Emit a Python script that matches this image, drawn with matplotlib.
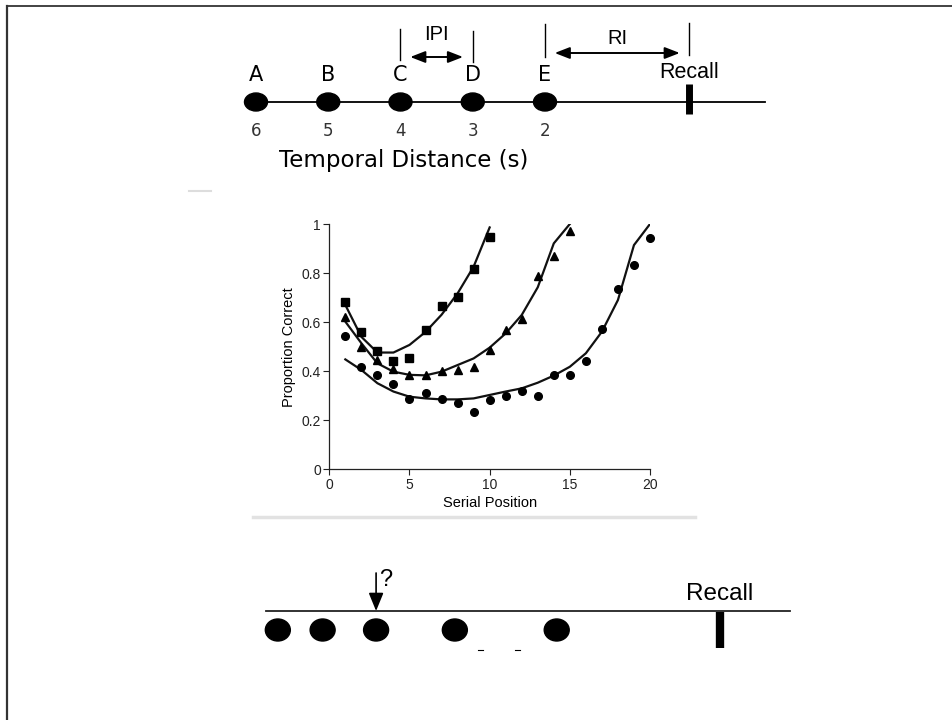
import matplotlib
matplotlib.use("Agg")
import matplotlib.pyplot as plt
from matplotlib.patches import Ellipse

plt.rcParams["font.family"] = ["Liberation Sans", "DejaVu Sans"]

# top timeline: items and their temporal distance to recall (s)
item_labels = ["A", "B", "C", "D", "E"]
item_distances = [6, 5, 4, 3, 2]
recall_distance = 0

# bottom timeline: item distances to recall (s), probe at the third item
bottom_distances = [6.12, 5.5, 4.76, 3.67, 2.26]
probe_index = 2

# serial position curves (list lengths 10, 15, 20)
serial_pos = list(range(1, 21))
sq_obs = [0.681, 0.561, 0.481, 0.443, 0.452, 0.568, 0.667, 0.701, 0.818, 0.946]
sq_fit = [0.67, 0.54, 0.476, 0.476, 0.507, 0.56, 0.63, 0.717, 0.826, 0.986]
tri_obs = [0.622, 0.50, 0.446, 0.408, 0.385, 0.385, 0.40, 0.404, 0.416, 0.486,
           0.568, 0.614, 0.789, 0.87, 0.973]
tri_fit = [0.602, 0.514, 0.432, 0.398, 0.385, 0.383, 0.398, 0.425, 0.452, 0.496,
           0.554, 0.629, 0.742, 0.921, 1.0]
circ_obs = [0.543, 0.418, 0.383, 0.348, 0.287, 0.311, 0.287, 0.272, 0.232, 0.283,
            0.30, 0.321, 0.299, 0.386, 0.386, 0.442, 0.573, 0.735, 0.834, 0.943]
circ_fit = [0.448, 0.405, 0.351, 0.317, 0.296, 0.289, 0.285, 0.285, 0.289, 0.303,
            0.317, 0.33, 0.353, 0.382, 0.418, 0.473, 0.561, 0.69, 0.914, 1.0]

W, H = 953, 720
fig = plt.figure(figsize=(W / 100, H / 100), dpi=100)


def px_axes(x0, y0, x1, y1):
    # pixel box (top-left origin) -> figure axes
    return fig.add_axes([x0 / W, 1 - y1 / H, (x1 - x0) / W, (y1 - y0) / H])


# page frame and grey separators
canvas = px_axes(0, 0, W, H)
canvas.set_xlim(0, W)
canvas.set_ylim(H, 0)
canvas.axis("off")
canvas.plot([7, W], [6, 6], color="#222", lw=1.2)
canvas.plot([7, 7], [6, H], color="#333", lw=1.6)
canvas.plot([189, 211], [191, 191], color="#dddddd", lw=1.5)
canvas.plot([253, 695], [517, 517], color="#e2e2e2", lw=2.5)

# ---- top timeline ----
PX_PER_S = 72.25
RECALL_PX = 689.5
top = px_axes(230, 0, 780, 190)
top.set_xlim((RECALL_PX - 230) / PX_PER_S, (RECALL_PX - 780) / PX_PER_S)
top.set_ylim(190, 0)
top.axis("off")

line_y = 102
top.plot([(RECALL_PX - 245) / PX_PER_S, (RECALL_PX - 765) / PX_PER_S], [line_y, line_y],
         color="black", lw=1.3)
for lab, d in zip(item_labels, item_distances):
    top.add_patch(Ellipse((d, line_y), 23 / PX_PER_S, 18, color="black"))
    top.text(d, 75, lab, ha="center", va="center", fontsize=15, family="DejaVu Sans")
    top.text(d, 131, str(d), ha="center", va="center", fontsize=12,
             family="DejaVu Sans", color="#333")
top.plot([recall_distance, recall_distance], [84, 114], color="black", lw=5,
         solid_capstyle="butt")
top.text(recall_distance, 73, "Recall", ha="center", va="center", fontsize=15.5)
top.text((RECALL_PX - 404) / PX_PER_S, 161, "Temporal Distance (s)", ha="center",
         va="center", fontsize=16.5, family="DejaVu Sans")

# IPI and RI brackets
top.plot([4.0, 4.0], [29, 60], color="black", lw=1)
top.plot([3.0, 3.0], [31, 62], color="black", lw=1)
top.plot([2.0, 2.0], [24, 57], color="black", lw=1)
top.plot([0.0, 0.0], [23, 55], color="black", lw=1)
arrow = dict(arrowstyle="<|-|>,head_length=0.9,head_width=0.35", color="black", lw=1.4,
             shrinkA=7, shrinkB=7)
top.annotate("", xy=(3.0, 57), xytext=(4.0, 57), arrowprops=arrow)
top.annotate("", xy=(0.0, 53), xytext=(2.0, 53), arrowprops=arrow)
top.text(3.5, 35, "IPI", ha="center", va="center", fontsize=14.5)
top.text(1.0, 38, "RI", ha="center", va="center", fontsize=14.5)

# ---- serial position chart ----
ax = px_axes(329.3, 224, 650, 469.3)
ax.plot(serial_pos[:10], sq_fit, color="#111", lw=1.6)
ax.plot(serial_pos[:15], tri_fit, color="#111", lw=1.6)
ax.plot(serial_pos[:20], circ_fit, color="#111", lw=1.6)
ax.plot(serial_pos[:10], sq_obs, "s", ms=5.5, color="black", clip_on=False)
ax.plot(serial_pos[:15], tri_obs, "^", ms=6, color="black", clip_on=False)
ax.plot(serial_pos[:20], circ_obs, "o", ms=5.5, color="black", clip_on=False)
ax.set_xlim(0, 20)
ax.set_ylim(0, 1)
ax.set_xticks([0, 5, 10, 15, 20])
ax.set_yticks([0, 0.2, 0.4, 0.6, 0.8, 1])
ax.set_yticklabels(["0", "0.2", "0.4", "0.6", "0.8", "1"])
for s in ["top", "right"]:
    ax.spines[s].set_visible(False)
for s in ["left", "bottom"]:
    ax.spines[s].set_linewidth(0.9)
    ax.spines[s].set_color("#222")
ax.tick_params(direction="out", length=4, width=0.8, labelsize=10, pad=2, colors="#222")
ax.set_xlabel("Serial Position", fontsize=10.5, labelpad=3)
ax.set_ylabel("Proportion Correct", fontsize=10.5, labelpad=4)

# ---- bottom timeline ----
RECALL2_PX = 720
bot = px_axes(250, 560, 800, 660)
bot.set_xlim((RECALL2_PX - 250) / PX_PER_S, (RECALL2_PX - 800) / PX_PER_S)
bot.set_ylim(100, 0)
bot.axis("off")
bot.plot([(RECALL2_PX - 266) / PX_PER_S, (RECALL2_PX - 790) / PX_PER_S], [51, 51],
         color="#222", lw=1.3)
for d in bottom_distances:
    bot.add_patch(Ellipse((d, 70), 25 / PX_PER_S, 22, color="black"))
bot.plot([0, 0], [52, 88], color="black", lw=6, solid_capstyle="butt")
bot.text(0, 34, "Recall", ha="center", va="center", fontsize=17.5)
pd_ = bottom_distances[probe_index]
bot.annotate("", xy=(pd_, 51), xytext=(pd_, 13),
             arrowprops=dict(arrowstyle="-|>,head_length=1.1,head_width=0.45",
                             color="black", lw=1.2, shrinkA=0, shrinkB=0))
bot.text(pd_ - 0.13, 20, "?", ha="center", va="center", fontsize=17)
# small stray dashes below the line
for x0 in [(RECALL2_PX - 478) / PX_PER_S, (RECALL2_PX - 515) / PX_PER_S]:
    bot.plot([x0, x0 - 5 / PX_PER_S], [90, 90], color="black", lw=0.8)

fig.savefig("out.png", dpi=100)
